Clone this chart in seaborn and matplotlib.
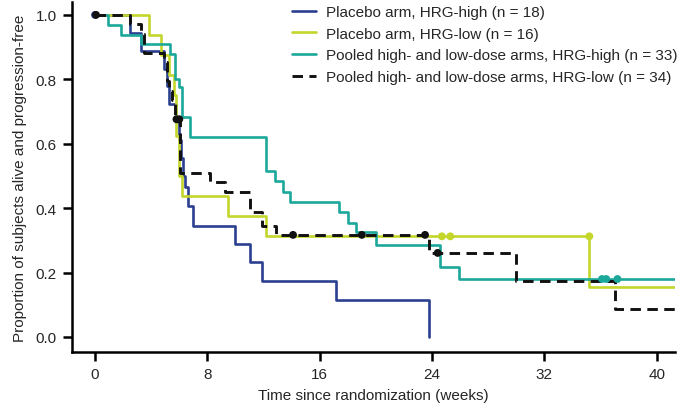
import matplotlib
matplotlib.use("Agg")
import matplotlib.pyplot as plt
import seaborn as sns
import pandas as pd
from matplotlib import font_manager

# ---------------- data ----------------
follow_up_end = 41.4

labels = [
    "Placebo arm, HRG-high (n = 18)",
    "Placebo arm, HRG-low (n = 16)",
    "Pooled high- and low-dose arms, HRG-high (n = 33)",
    "Pooled high- and low-dose arms, HRG-low (n = 34)",
]

# Placebo, HRG-high
blue_t = [0, 2.5, 3.3, 4.9, 5.1, 5.3, 5.8, 6.0, 6.1, 6.25, 6.4, 6.6, 7.0, 10.0, 11.0, 11.9, 17.15, 23.8]
blue_s = [1.0, 0.944, 0.889, 0.833, 0.778, 0.722, 0.667, 0.611, 0.556, 0.5, 0.466, 0.407, 0.346, 0.289, 0.232, 0.175, 0.115, 0.0]
blue_ct = [0.0]
blue_cs = [1.0]

# Placebo, HRG-low
yel_t = [0, 3.87, 4.67, 5.3, 5.6, 5.8, 6.0, 6.17, 9.5, 12.2, 35.2, follow_up_end]
yel_s = [1.0, 0.9375, 0.875, 0.8125, 0.75, 0.625, 0.5, 0.4375, 0.375, 0.3125, 0.156, 0.156]
yel_ct = [24.7, 25.3, 35.2]
yel_cs = [0.3125, 0.3125, 0.3125]

# Pooled, HRG-high
teal_t = [0, 0.95, 1.83, 3.3, 5.34, 5.7, 5.95, 6.17, 6.76, 12.2, 12.8, 13.4, 13.9, 17.4, 18.0, 18.6, 20.0, 24.55, 25.9, follow_up_end]
teal_s = [1.0, 0.97, 0.939, 0.909, 0.879, 0.80, 0.775, 0.682, 0.62, 0.516, 0.485, 0.451, 0.42, 0.387, 0.354, 0.325, 0.286, 0.216, 0.18, 0.18]
teal_ct = [36.1, 36.4, 37.2]
teal_cs = [0.18, 0.18, 0.18]

# Pooled, HRG-low
blk_t = [0, 2.5, 3.27, 3.5, 4.9, 5.1, 5.3, 5.5, 5.7, 6.05, 8.2, 9.25, 11.0, 11.9, 12.9, 23.8, 30.0, 37.0, follow_up_end]
blk_s = [1.0, 0.971, 0.941, 0.882, 0.853, 0.794, 0.765, 0.735, 0.676, 0.51, 0.48, 0.449, 0.388, 0.346, 0.317, 0.261, 0.175, 0.087, 0.087]
blk_ct = [0.07, 5.8, 6.0, 14.1, 19.0, 23.5, 24.4]
blk_cs = [1.0, 0.676, 0.676, 0.317, 0.317, 0.317, 0.261]

x_ticks = [0, 8, 16, 24, 32, 40]
y_ticks = [0.0, 0.2, 0.4, 0.6, 0.8, 1.0]
x_label = "Time since randomization (weeks)"
y_label = "Proportion of subjects alive and progression-free"

colors = ["#2b3f91", "#c4d52c", "#1ba89b", "#111111"]

# ---------------- style ----------------
sns.set_style("ticks")
avail = {f.name for f in font_manager.fontManager.ttflist}
if "Liberation Sans Narrow" in avail:
    fam = ["Liberation Sans Narrow", "DejaVu Sans"]
    fs = 12
else:
    fam = ["Liberation Sans", "DejaVu Sans"]
    fs = 11
plt.rcParams["font.family"] = fam

fig = plt.figure(figsize=(6.82, 4.14), dpi=100)
ax = fig.add_axes([72 / 682, 1 - 353 / 414, (675 - 72) / 682, (353 - 3) / 414])

series = [
    (blue_t, blue_s, blue_ct, blue_cs, "-"),
    (yel_t, yel_s, yel_ct, yel_cs, "-"),
    (teal_t, teal_s, teal_ct, teal_cs, "-"),
    (blk_t, blk_s, blk_ct, blk_cs, (0, (3.6, 2.2))),
]

handles = []
for i, (t, s, ct, cs, ls) in enumerate(series):
    df = pd.DataFrame({"t": t, "s": s})
    lw = 2.1 if i == 3 else 1.9
    sns.lineplot(data=df, x="t", y="s", ax=ax, color=colors[i], linestyle=ls,
                 linewidth=lw, drawstyle="steps-post", estimator=None, sort=False,
                 zorder=2 + i)
    handles.append(ax.lines[-1])
    cdf = pd.DataFrame({"t": ct, "s": cs})
    sns.scatterplot(data=cdf, x="t", y="s", ax=ax, color=colors[i], s=32,
                    edgecolor="none", linewidth=0, zorder=6 + i)

ax.set_xlim(-1.64, 41.3)
ax.set_ylim(-0.0466, 1.04)
ax.set_xticks(x_ticks)
ax.set_yticks(y_ticks)
ax.set_yticklabels([f"{v:.1f}" for v in y_ticks])
ax.set_xlabel(x_label, fontsize=fs, labelpad=5)
ax.set_ylabel(y_label, fontsize=fs, labelpad=6)
sns.despine(ax=ax)
for sp in ("left", "bottom"):
    ax.spines[sp].set_linewidth(1.8)
    ax.spines[sp].set_color("black")
ax.tick_params(axis="both", which="major", labelsize=fs, width=1.8, length=6.5,
               direction="out", color="black", pad=4.5)

leg = ax.legend(handles, labels, loc="upper left",
                bbox_to_anchor=(292 / 682, 1 - 6 / 414), bbox_transform=fig.transFigure,
                frameon=False, fontsize=fs, borderaxespad=0, borderpad=0,
                handlelength=1.6, handletextpad=0.6, labelspacing=0.5)

fig.savefig("out.png", dpi=100)
